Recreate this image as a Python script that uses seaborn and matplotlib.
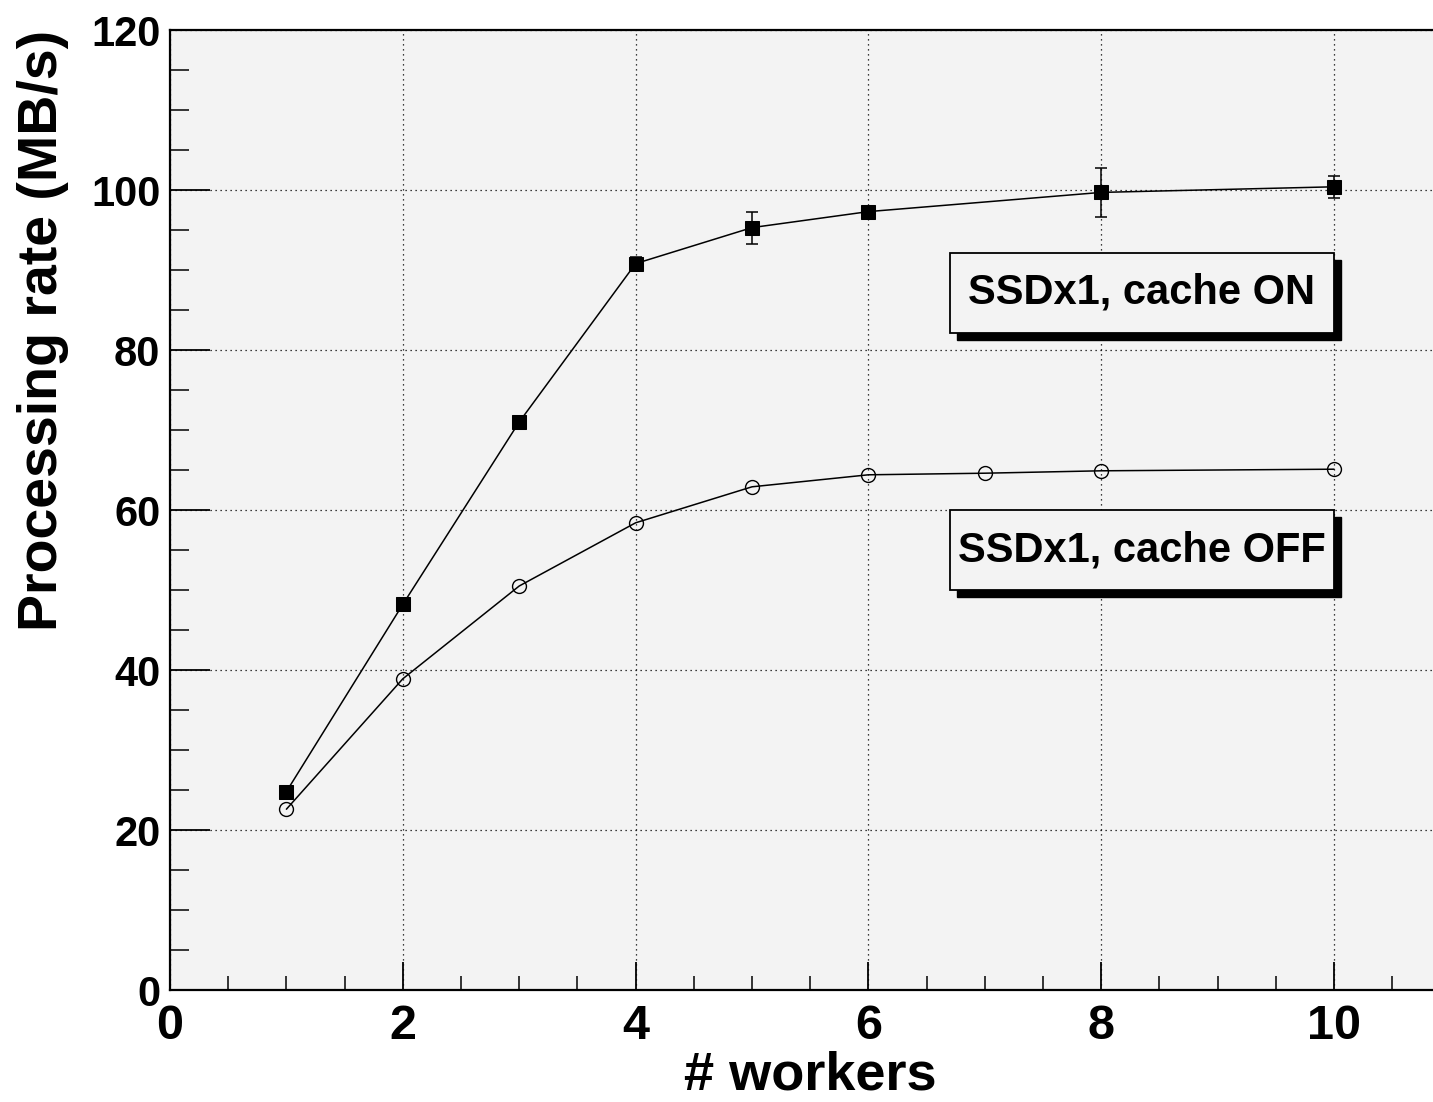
import matplotlib
matplotlib.use("Agg")
import matplotlib.pyplot as plt
import seaborn as sns
import pandas as pd
from matplotlib.patches import Rectangle
from matplotlib.ticker import MultipleLocator

# ---- data ----
workers_on = [1, 2, 3, 4, 5, 6, 8, 10]
rate_on = [24.8, 48.2, 71.0, 90.8, 95.3, 97.3, 99.7, 100.4]
err_on = [0.3, 0.4, 0.4, 0.8, 2.0, 0.6, 3.1, 1.4]

workers_off = [1, 2, 3, 4, 5, 6, 7, 8, 10]
rate_off = [22.6, 38.9, 50.5, 58.4, 62.9, 64.4, 64.6, 64.9, 65.1]

label_on = "SSDx1, cache ON"
label_off = "SSDx1, cache OFF"
x_label = "# workers"
y_label = "Processing rate (MB/s)"

df_on = pd.DataFrame({"workers": workers_on, "rate": rate_on})
df_off = pd.DataFrame({"workers": workers_off, "rate": rate_off})

sns.set_theme(style="ticks")
plt.rcParams["font.family"] = ["Liberation Sans", "DejaVu Sans"]
plt.rcParams["font.weight"] = "bold"

W, H = 1433, 1102
fig = plt.figure(figsize=(W / 100, H / 100), dpi=100)
fig.patch.set_facecolor("white")
ax = fig.add_axes([170 / W, (H - 990) / H, (W - 170) / W, 960 / H])
ax.set_facecolor("#f3f3f3")

sns.lineplot(data=df_on, x="workers", y="rate", ax=ax, color="black",
             linewidth=1.1, marker="s", markersize=10, markeredgecolor="black",
             markerfacecolor="black", zorder=4)
ax.errorbar(workers_on, rate_on, yerr=err_on, fmt="none", ecolor="black",
            elinewidth=1.1, capsize=4, capthick=1.1, zorder=4)
sns.lineplot(data=df_off, x="workers", y="rate", ax=ax, color="black",
             linewidth=1.1, marker="o", markersize=10, markeredgecolor="black",
             markerfacecolor="none", markeredgewidth=1.0, zorder=4)

ax.set_xlim(0, 10.85)
ax.set_ylim(0, 120)
ax.xaxis.set_major_locator(MultipleLocator(2))
ax.xaxis.set_minor_locator(MultipleLocator(0.5))
ax.yaxis.set_major_locator(MultipleLocator(20))
ax.yaxis.set_minor_locator(MultipleLocator(5))

ax.grid(True, which="major", color="black", linestyle=(0, (1, 3)), linewidth=0.9)
ax.set_axisbelow(True)

ax.tick_params(axis="x", which="major", direction="in", length=20, width=1.3,
               labelsize=35, pad=10, colors="black")
ax.tick_params(axis="x", which="minor", direction="in", length=10, width=1.3)
ax.tick_params(axis="y", which="major", direction="in", length=29, width=1.3,
               labelsize=30, pad=7, colors="black")
ax.tick_params(axis="y", which="minor", direction="in", length=14, width=1.3)
for lab in ax.get_xticklabels() + ax.get_yticklabels():
    lab.set_fontweight("bold")

for side in ["left", "bottom", "top"]:
    ax.spines[side].set_visible(True)
    ax.spines[side].set_color("black")
    ax.spines[side].set_linewidth(1.6)
ax.spines["right"].set_visible(False)

ax.set_xlabel(x_label, fontsize=39, fontweight="bold", color="black")
ax.set_ylabel(y_label, fontsize=40, fontweight="bold", color="black", loc="top")
ax.xaxis.set_label_coords(0.507, (990 - 1101) / 960, transform=ax.transAxes)
ax.xaxis.label.set_va("bottom")
ax.yaxis.set_label_coords(-0.080, 1.0, transform=ax.transAxes)

# text boxes with shadows
aw, ah = W - 170, 960
def box(left_px, top_px, right_px, bottom_px, text):
    x0 = (left_px - 170) / aw
    x1 = (right_px - 170) / aw
    y1 = (990 - top_px) / ah
    y0 = (990 - bottom_px) / ah
    dx, dy = 7 / aw, 7 / ah
    ax.add_patch(Rectangle((x0 + dx, y0 - dy), x1 - x0, y1 - y0, transform=ax.transAxes,
                           facecolor="black", edgecolor="black", zorder=5))
    ax.add_patch(Rectangle((x0, y0), x1 - x0, y1 - y0, transform=ax.transAxes,
                           facecolor="#f3f3f3", edgecolor="black", linewidth=1.3, zorder=6))
    ax.text((x0 + x1) / 2, (y0 + y1) / 2, text, transform=ax.transAxes,
            ha="center", va="center", fontsize=30, fontweight="bold",
            color="black", zorder=7)

box(950, 253, 1334, 333, label_on)
box(950, 510, 1334, 590, label_off)

fig.savefig("out.png", dpi=100, facecolor="white")
